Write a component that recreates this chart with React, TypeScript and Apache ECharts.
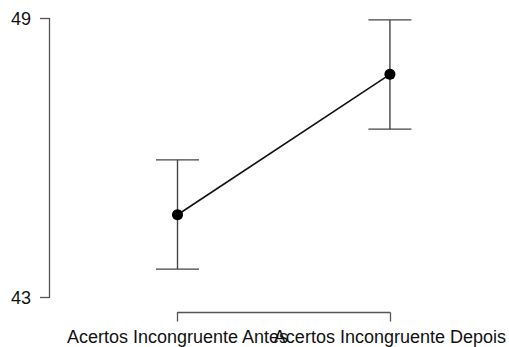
import React, { useEffect, useRef } from "react";
import * as echarts from "echarts";

const categories = ["Acertos Incongruente Antes", "Acertos Incongruente Depois"];
const means = [44.78, 47.8];
const lowerCI = [43.61, 46.62];
const upperCI = [45.96, 48.97];
const yTicks = [43, 49];

export default function App() {
  const ref = useRef<HTMLDivElement>(null);
  useEffect(() => {
    if (!ref.current) return;
    const chart = echarts.init(ref.current, null, { renderer: "svg" });
    const font = "'Liberation Sans', Arial, sans-serif";
    chart.setOption({
      animation: false,
      backgroundColor: "#ffffff",
      grid: { left: 177.5, right: 116, top: 18.5, bottom: 49.5 },
      xAxis: {
        type: "category",
        data: categories,
        boundaryGap: false,
        offset: 15,
        axisLine: { lineStyle: { color: "#555", width: 1.3 } },
        axisTick: { length: 9, alignWithLabel: true, lineStyle: { color: "#555", width: 1.3 } },
        axisLabel: { interval: 0, hideOverlap: false, margin: 15, fontSize: 18, color: "#111", fontFamily: font },
        splitLine: { show: false },
      },
      yAxis: {
        type: "value",
        min: 43,
        max: 49,
        offset: 128.5,
        axisLine: { show: true, lineStyle: { color: "#555", width: 1.3 } },
        axisTick: { show: true, length: 9, customValues: yTicks, lineStyle: { color: "#555", width: 1.3 } },
        axisLabel: { margin: 18, fontSize: 18, color: "#111", fontFamily: font, customValues: yTicks },
        splitLine: { show: false },
      },
      series: [
        {
          type: "custom",
          clip: false,
          data: categories.map((_, i) => [i, lowerCI[i], upperCI[i]]),
          renderItem: (params: any, api: any) => {
            const x = api.value(0);
            const lo = api.coord([x, api.value(1)]);
            const hi = api.coord([x, api.value(2)]);
            const hw = 21.5;
            const style = { stroke: "#444", lineWidth: 1.4 };
            return {
              type: "group",
              children: [
                { type: "line", shape: { x1: lo[0], y1: lo[1], x2: hi[0], y2: hi[1] }, style },
                { type: "line", shape: { x1: lo[0] - hw, y1: lo[1], x2: lo[0] + hw, y2: lo[1] }, style },
                { type: "line", shape: { x1: hi[0] - hw, y1: hi[1], x2: hi[0] + hw, y2: hi[1] }, style },
              ],
            };
          },
          z: 1,
        },
        {
          type: "line",
          data: means,
          clip: false,
          symbol: "circle",
          symbolSize: 11,
          itemStyle: { color: "#000" },
          lineStyle: { color: "#111", width: 1.6 },
          z: 2,
        },
      ],
    });
    return () => chart.dispose();
  }, []);
  return <div ref={ref} style={{ width: 509, height: 347, position: "absolute", left: 0, top: 0 }} />;
}
